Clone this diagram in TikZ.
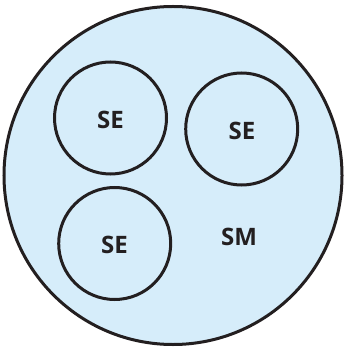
\documentclass[tikz,border=0pt]{standalone}
\usepackage{fontspec}
\setmainfont{Open Sans}
\definecolor{fillblue}{RGB}{214,237,250}
\definecolor{ink}{RGB}{35,31,32}
\begin{document}
\begin{tikzpicture}[x=1pt,y=-1pt,
  ring/.style={draw=ink,line width=3pt,circle,minimum size=112pt,inner sep=0pt},
  lbl/.style={text=ink,font=\fontsize{24}{24}\selectfont\bfseries}]
\useasboundingbox (0,0) rectangle (345,347);
\node[draw=ink,line width=3pt,fill=fillblue,circle,minimum size=338pt,inner sep=0pt] (sm) at (173,175.5) {};
\node[ring] (se1) at (110.5,118) {};
\node[ring] (se2) at (241.7,129) {};
\node[ring] (se3) at (114.7,243.5) {};
\node[lbl] at (110.5,119.5) {SE};
\node[lbl] at (242,130.5) {SE};
\node[lbl] at (114.5,245) {SE};
\node[lbl] (smlabel) at (239,236.5) {SM};
\end{tikzpicture}
\end{document}
